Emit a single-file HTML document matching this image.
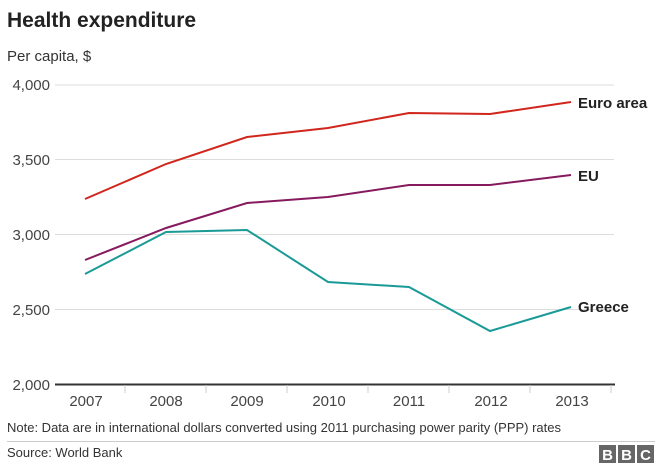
<!DOCTYPE html>
<html><head><style>
body{margin:0;background:#fff;font-family:"Liberation Sans",Arial,sans-serif;}
</style></head><body>
<svg width="660" height="467" xmlns="http://www.w3.org/2000/svg" font-family="Liberation Sans, Arial, sans-serif">
<text x="7" y="27" font-size="21" font-weight="bold" fill="#222">Health expenditure</text>
<text x="7" y="61" font-size="15" fill="#333">Per capita, $</text>
<g stroke="#ddd" stroke-width="1">
<line x1="55" y1="85" x2="614" y2="85"/>
<line x1="55" y1="159.5" x2="614" y2="159.5"/>
<line x1="55" y1="234.5" x2="614" y2="234.5"/>
<line x1="55" y1="309.5" x2="614" y2="309.5"/>
</g>
<g font-size="15" fill="#444" text-anchor="end">
<text x="50" y="90">4,000</text>
<text x="50" y="165">3,500</text>
<text x="50" y="240">3,000</text>
<text x="50" y="315">2,500</text>
<text x="50" y="390">2,000</text>
</g>
<line x1="55" y1="384.5" x2="615" y2="384.5" stroke="#333" stroke-width="2"/>
<g stroke="#ccc"><line x1="125" y1="385" x2="125" y2="393"/><line x1="206" y1="385" x2="206" y2="393"/><line x1="287" y1="385" x2="287" y2="393"/><line x1="368" y1="385" x2="368" y2="393"/><line x1="449" y1="385" x2="449" y2="393"/><line x1="530" y1="385" x2="530" y2="393"/><line x1="611" y1="385" x2="611" y2="393"/></g>
<g font-size="15" fill="#444" text-anchor="middle">
<text x="86" y="406">2007</text><text x="166" y="406">2008</text><text x="247" y="406">2009</text><text x="329" y="406">2010</text><text x="409" y="406">2011</text><text x="491" y="406">2012</text><text x="572" y="406">2013</text>
</g>
<g fill="none" stroke-width="2">
<polyline stroke="#d1261d" points="85,199 166,164 247,137 328,128 409,113 490,114 571,102"/>
<polyline stroke="#861a5e" points="85,260 166,228 247,203 328,197 409,185 490,185 571,175"/>
<polyline stroke="#1a9a96" points="85,274 166,232 247,230 328,282 409,287 490,331 571,307"/>
</g>
<g font-size="15" font-weight="bold" fill="#222">
<text x="578" y="108">Euro area</text>
<text x="578" y="181">EU</text>
<text x="578" y="312">Greece</text>
</g>
<text x="7" y="432" font-size="13" fill="#333">Note: Data are in international dollars converted using 2011 purchasing power parity (PPP) rates</text>
<line x1="7" y1="441.5" x2="655" y2="441.5" stroke="#ccc"/>
<text x="7" y="457" font-size="13" fill="#333">Source: World Bank</text>
<g fill="#666"><rect x="599" y="445" width="17" height="18"/><rect x="618" y="445" width="17" height="18"/><rect x="637" y="445" width="17" height="18"/></g>
<g font-size="15" font-weight="bold" fill="#fff" text-anchor="middle"><text x="607.5" y="460">B</text><text x="626.5" y="460">B</text><text x="645.5" y="460">C</text></g>
</svg>
</body></html>
